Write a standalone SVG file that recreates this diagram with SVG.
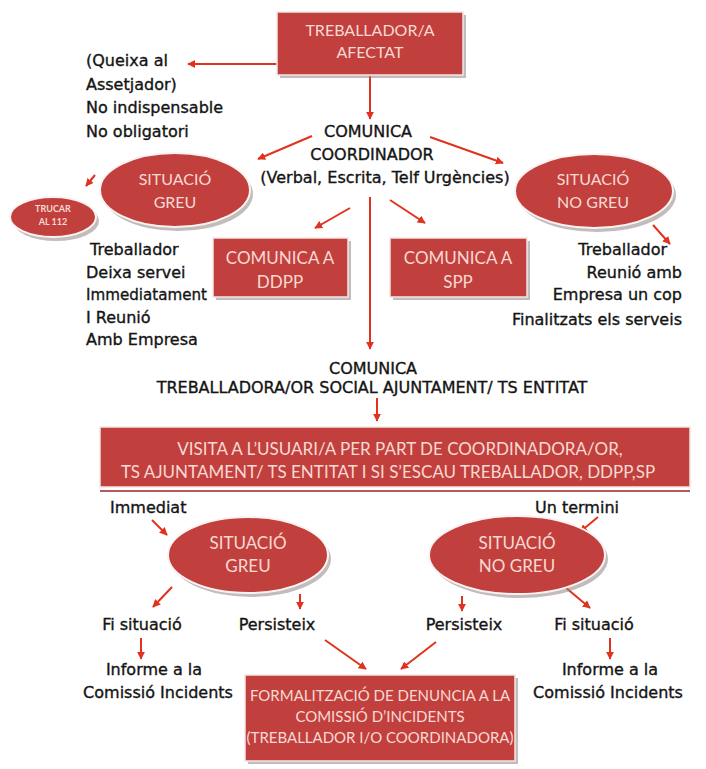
<svg xmlns="http://www.w3.org/2000/svg" width="706" height="769" viewBox="0 0 706 769">
<defs>
<marker id="ah" viewBox="0 0 10 10" refX="9" refY="5" markerWidth="4" markerHeight="4" orient="auto" markerUnits="strokeWidth">
<path d="M0,0 L10,5 L0,10 z" fill="#e0321f"/>
</marker>
<style>
.box{fill:#c1403d;stroke:#f4e6e4;stroke-width:1.5}
.sh{fill:#8f8585;opacity:.55}
.el{fill:#c1403d;stroke:#fbf3f2;stroke-width:2}
.bt{font-family:Lato,"Liberation Sans",sans-serif;font-size:16px;fill:#f8d9d3;text-anchor:middle}
.b17{font-size:17px}
.b15{font-size:15px}
.tx{font-family:"DejaVu Sans","Liberation Sans",sans-serif;font-size:16px;fill:#141414;stroke:#141414;stroke-width:0.35}
.c{text-anchor:middle}
.e{text-anchor:end}
.ar{stroke:#e0321f;stroke-width:2;fill:none;marker-end:url(#ah)}
</style>
</defs>
<rect width="706" height="769" fill="#ffffff"/>

<g id="connectors">
<line class="ar" x1="277" y1="64" x2="188" y2="64"/>
<line class="ar" x1="370" y1="76" x2="370" y2="119"/>
<line class="ar" x1="312" y1="136" x2="258" y2="159"/>
<line class="ar" x1="430" y1="137" x2="503" y2="163"/>
<line class="ar" x1="95" y1="175" x2="86" y2="186"/>
<line class="ar" x1="653" y1="225" x2="670" y2="244"/>
<line class="ar" x1="350" y1="208" x2="315" y2="228"/>
<line class="ar" x1="390" y1="200" x2="425" y2="223"/>
<line class="ar" x1="370" y1="197" x2="370" y2="349"/>
<line class="ar" x1="377" y1="398" x2="377" y2="421"/>
<line class="ar" x1="152" y1="520" x2="167" y2="535"/>
<line class="ar" x1="598" y1="517" x2="580" y2="532"/>
<line class="ar" x1="172" y1="587" x2="153" y2="607"/>
<line class="ar" x1="300" y1="594" x2="300" y2="609"/>
<line class="ar" x1="462" y1="596" x2="462" y2="611"/>
<line class="ar" x1="565" y1="587" x2="590" y2="608"/>
<line class="ar" x1="141" y1="638" x2="141" y2="659"/>
<line class="ar" x1="610" y1="638" x2="610" y2="659"/>
<line class="ar" x1="325" y1="640" x2="366" y2="669"/>
<line class="ar" x1="436" y1="642" x2="401" y2="669"/>
</g>

<g id="treballador-afectat">
<rect class="sh" x="280" y="15" width="186" height="63"/>
<rect class="box" x="277" y="12" width="186" height="63"/>
<text class="bt" x="370" y="36">TREBALLADOR/A</text>
<text class="bt" x="370" y="58">AFECTAT</text>
</g>

<g id="queixa">
<text class="tx" x="86" y="66">(Queixa al</text>
<text class="tx" x="86" y="90">Assetjador)</text>
<text class="tx" x="86" y="113">No indispensable</text>
<text class="tx" x="86" y="137">No obligatori</text>
</g>

<g id="comunica-coordinador">
<text class="tx c" x="368" y="137">COMUNICA</text>
<text class="tx c" x="372" y="160">COORDINADOR</text>
<text class="tx c" x="385" y="183">(Verbal, Escrita, Telf Urgències)</text>
</g>

<g id="situacio-greu-1">
<ellipse class="sh" cx="178" cy="194" rx="75" ry="37"/>
<ellipse class="el" cx="175" cy="190" rx="75" ry="37"/>
<text class="bt" x="175" y="185">SITUACIÓ</text>
<text class="bt" x="175" y="208">GREU</text>
</g>

<g id="trucar-112">
<ellipse class="sh" cx="56" cy="221" rx="43" ry="20"/>
<ellipse class="el" cx="53" cy="217" rx="43" ry="20"/>
<text class="bt" x="53" y="212" style="font-size:9px;font-weight:bold">TRUCAR</text>
<text class="bt" x="53" y="225" style="font-size:9px;font-weight:bold">AL 112</text>
</g>

<g id="situacio-no-greu-1">
<ellipse class="sh" cx="597" cy="195" rx="79" ry="37"/>
<ellipse class="el" cx="594" cy="191" rx="79" ry="37"/>
<text class="bt" x="593" y="185">SITUACIÓ</text>
<text class="bt" x="593" y="208">NO GREU</text>
</g>

<g id="greu-accions">
<text class="tx" x="90" y="255">Treballador</text>
<text class="tx" x="86" y="278">Deixa servei</text>
<text class="tx" x="86" y="300" textLength="121" lengthAdjust="spacingAndGlyphs">Immediatament</text>
<text class="tx" x="86" y="323">I Reunió</text>
<text class="tx" x="86" y="345">Amb Empresa</text>
</g>

<g id="no-greu-accions">
<text class="tx e" x="667" y="255">Treballador</text>
<text class="tx e" x="682" y="278">Reunió amb</text>
<text class="tx e" x="682" y="300">Empresa un cop</text>
<text class="tx e" x="682" y="325">Finalitzats els serveis</text>
</g>

<g id="comunica-ddpp">
<rect class="sh" x="216" y="241" width="135" height="59"/>
<rect class="box" x="213" y="238" width="135" height="59"/>
<text class="bt b17" x="280" y="264">COMUNICA A</text>
<text class="bt b17" x="280" y="288">DDPP</text>
</g>

<g id="comunica-spp">
<rect class="sh" x="393" y="241" width="137" height="59"/>
<rect class="box" x="390" y="238" width="137" height="59"/>
<text class="bt b17" x="458" y="264">COMUNICA A</text>
<text class="bt b17" x="458" y="288">SPP</text>
</g>

<g id="comunica-ts">
<text class="tx c" x="373" y="374">COMUNICA</text>
<text class="tx c" x="372" y="393">TREBALLADORA/OR SOCIAL AJUNTAMENT/ TS ENTITAT</text>
</g>

<g id="visita">
<line x1="100" y1="491" x2="690" y2="491" stroke="#b45a58" stroke-width="2"/>
<rect class="box" x="100" y="427" width="590" height="60"/>
<text class="bt b17" x="400" y="455">VISITA A L’USUARI/A PER PART DE COORDINADORA/OR,</text>
<text class="bt b17" x="388" y="478">TS AJUNTAMENT/ TS ENTITAT I SI S’ESCAU TREBALLADOR, DDPP,SP</text>
</g>

<g id="immediat"><text class="tx" x="110" y="513">Immediat</text></g>
<g id="un-termini"><text class="tx" x="535" y="513">Un termini</text></g>

<g id="situacio-greu-2">
<ellipse class="sh" cx="251" cy="559" rx="80" ry="38"/>
<ellipse class="el" cx="248" cy="555" rx="80" ry="38"/>
<text class="bt b17" x="248" y="549">SITUACIÓ</text>
<text class="bt b17" x="248" y="572">GREU</text>
</g>

<g id="situacio-no-greu-2">
<ellipse class="sh" cx="520" cy="559" rx="88" ry="39"/>
<ellipse class="el" cx="517" cy="555" rx="88" ry="39"/>
<text class="bt b17" x="517" y="549">SITUACIÓ</text>
<text class="bt b17" x="517" y="572">NO GREU</text>
</g>

<g id="fi-situacio-1"><text class="tx c" x="142" y="630">Fi situació</text></g>
<g id="persisteix-1"><text class="tx c" x="277" y="630">Persisteix</text></g>
<g id="persisteix-2"><text class="tx c" x="464" y="630">Persisteix</text></g>
<g id="fi-situacio-2"><text class="tx c" x="594" y="630">Fi situació</text></g>

<g id="informe-1">
<text class="tx c" x="154" y="675">Informe a la</text>
<text class="tx c" x="158" y="698">Comissió Incidents</text>
</g>
<g id="informe-2">
<text class="tx c" x="610" y="675">Informe a la</text>
<text class="tx c" x="608" y="698">Comissió Incidents</text>
</g>

<g id="formalitzacio">
<rect class="sh" x="248" y="678" width="270" height="86"/>
<rect class="box" x="245" y="675" width="270" height="86"/>
<text class="bt b15" x="380" y="701">FORMALITZACIÓ DE DENUNCIA A LA</text>
<text class="bt b15" x="380" y="722">COMISSIÓ D’INCIDENTS</text>
<text class="bt b15" x="380" y="743">(TREBALLADOR I/O COORDINADORA)</text>
</g>
</svg>
